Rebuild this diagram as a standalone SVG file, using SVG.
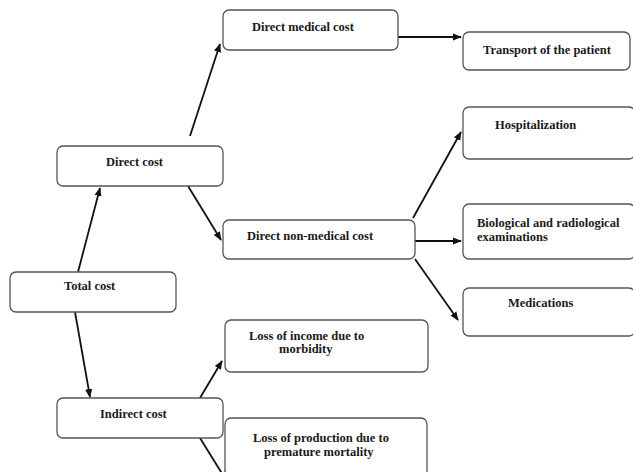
<svg xmlns="http://www.w3.org/2000/svg" width="633" height="472" viewBox="0 0 633 472">
<style>
.box{fill:#fff;stroke:#555;stroke-width:1.3}
.t{font-family:"Liberation Serif","Times New Roman",serif;font-weight:bold;font-size:12.5px;fill:#1a1a1a}
.c{stroke:#111;stroke-width:1.8;fill:none;marker-end:url(#ah)}
</style>
<defs>
<marker id="ah" viewBox="0 0 10 10" refX="9" refY="5" markerWidth="5" markerHeight="5" orient="auto" markerUnits="strokeWidth">
<path d="M0,1 L10,5 L0,9 z" fill="#111"/>
</marker>
</defs>
<rect width="633" height="472" fill="#fff"/>
<g id="connectors">
<path class="c" d="M190,136 L220,44"/>
<path class="c" d="M398,37 L461,37"/>
<path class="c" d="M78,272 L100,188"/>
<path class="c" d="M188,186 L221,240"/>
<path class="c" d="M413,218 L461,132"/>
<path class="c" d="M415,241 L461,241"/>
<path class="c" d="M415,259 L458,320"/>
<path class="c" d="M75,312 L90,397"/>
<path class="c" d="M200,398 L222,361"/>
<path class="c" d="M200,438 L226,480"/>
</g>
<g id="direct-medical-cost"><rect class="box" x="223" y="10" width="175" height="40" rx="6"/><text class="t" x="252" y="31">Direct medical cost</text></g>
<g id="transport"><rect class="box" x="463" y="32" width="167" height="38" rx="6"/><text class="t" x="483" y="54">Transport of the patient</text></g>
<g id="hospitalization"><rect class="box" x="463" y="107" width="172" height="52" rx="6"/><text class="t" x="495" y="129">Hospitalization</text></g>
<g id="biological"><rect class="box" x="463" y="204" width="172" height="55" rx="6"/><text class="t" x="477" y="227">Biological and radiological</text><text class="t" x="477" y="241">examinations</text></g>
<g id="medications"><rect class="box" x="463" y="288" width="172" height="48" rx="6"/><text class="t" x="508" y="307">Medications</text></g>
<g id="direct-cost"><rect class="box" x="57" y="146" width="166" height="40" rx="6"/><text class="t" x="106" y="166">Direct cost</text></g>
<g id="direct-non-medical-cost"><rect class="box" x="223" y="220" width="192" height="39" rx="6"/><text class="t" x="247" y="240">Direct non-medical cost</text></g>
<g id="total-cost"><rect class="box" x="10" y="272" width="166" height="40" rx="6"/><text class="t" x="64" y="290">Total cost</text></g>
<g id="indirect-cost"><rect class="box" x="57" y="398" width="166" height="40" rx="6"/><text class="t" x="100" y="418">Indirect cost</text></g>
<g id="loss-income"><rect class="box" x="225" y="320" width="203" height="52" rx="6"/><text class="t" x="249" y="340">Loss of income due to</text><text class="t" x="279" y="353">morbidity</text></g>
<g id="loss-production"><rect class="box" x="225" y="418" width="202" height="60" rx="6"/><text class="t" x="253" y="442">Loss of production due to</text><text class="t" x="264" y="456">premature mortality</text></g>
</svg>
